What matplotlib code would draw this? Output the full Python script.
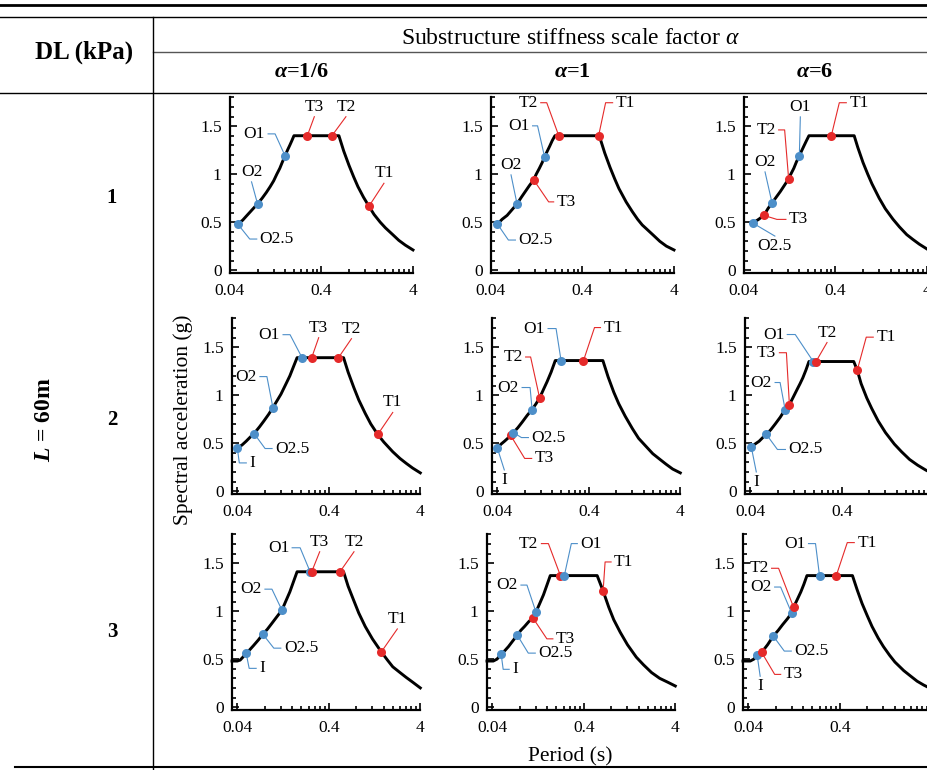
import numpy as np
import matplotlib
matplotlib.use('Agg')
import matplotlib.pyplot as plt
from matplotlib.lines import Line2D
from matplotlib.transforms import IdentityTransform
from matplotlib.ticker import NullFormatter

plt.rcParams['font.family'] = ['Liberation Serif', 'DejaVu Serif']
plt.rcParams['mathtext.fontset'] = 'custom'
plt.rcParams['mathtext.rm'] = 'Liberation Serif'
plt.rcParams['mathtext.it'] = 'Liberation Serif:italic'
plt.rcParams['mathtext.bf'] = 'Liberation Serif:bold'
plt.rcParams['mathtext.bfit'] = 'Liberation Serif:italic:bold'

W, H = 928, 770
BLUE = '#4d8fc9'
RED = '#e52a2a'

row_labels = ['1', '2', '3']
col_labels = ['1/6', '1', '6']
x_ticks = [0.04, 0.4, 4]
x_ticklabels = ['0.04', '0.4', '4']
y_ticks = [0, 0.5, 1, 1.5]
y_ticklabels = ['0', '0.5', '1', '1.5']

# ---- DL = 1 kPa ----
t11 = [0.0486, 0.055, 0.06, 0.07, 0.08, 0.09, 0.10, 0.11, 0.12, 0.13, 0.14, 0.15, 0.16, 0.17, 0.18, 0.19, 0.20,
       0.62, 0.7, 0.8, 0.9, 1.0, 1.15, 1.32, 1.5, 1.75, 2.0, 2.4, 2.8, 3.3, 4.0]
s11 = [0.48, 0.52, 0.56, 0.63, 0.69, 0.75, 0.81, 0.87, 0.93, 1.00, 1.06, 1.13, 1.19, 1.25, 1.30, 1.35, 1.40,
       1.40, 1.24, 1.09, 0.97, 0.87, 0.76, 0.665, 0.58, 0.50, 0.44, 0.37, 0.31, 0.26, 0.21]
n11 = ['O2.5', 'O2', 'O1', 'T3', 'T2', 'T1']
mt11 = [0.0486, 0.08, 0.16, 0.28, 0.52, 1.32]
ms11 = [0.48, 0.69, 1.19, 1.40, 1.40, 0.665]

t12 = [0.047, 0.053, 0.06, 0.068, 0.077, 0.086, 0.095, 0.105, 0.117, 0.125, 0.135, 0.145, 0.154, 0.165, 0.175,
       0.187, 0.20, 0.61, 0.7, 0.8, 0.9, 1.0, 1.2, 1.4, 1.6, 1.8, 2.0, 2.4, 2.8, 3.3, 4.0]
s12 = [0.48, 0.53, 0.57, 0.63, 0.69, 0.76, 0.82, 0.88, 0.94, 1.00, 1.06, 1.12, 1.18, 1.24, 1.29,
       1.35, 1.40, 1.40, 1.22, 1.07, 0.95, 0.85, 0.71, 0.61, 0.53, 0.47, 0.43, 0.36, 0.30, 0.25, 0.21]
n12 = ['O2.5', 'O2', 'O1', 'T3', 'T2', 'T1']
mt12 = [0.047, 0.077, 0.154, 0.117, 0.22, 0.60]
ms12 = [0.48, 0.69, 1.18, 0.94, 1.40, 1.40]

t13 = [0.05, 0.058, 0.066, 0.073, 0.081, 0.09, 0.10, 0.11, 0.123, 0.13, 0.14, 0.15, 0.161, 0.17, 0.18, 0.193, 0.205,
       0.64, 0.7, 0.8, 0.9, 1.0, 1.2, 1.4, 1.7, 2.0, 2.4, 2.8, 3.3, 4.0]
s13 = [0.49, 0.53, 0.57, 0.64, 0.70, 0.76, 0.82, 0.88, 0.95, 1.00, 1.06, 1.13, 1.19, 1.24, 1.29, 1.35, 1.40,
       1.40, 1.28, 1.12, 1.00, 0.90, 0.75, 0.64, 0.53, 0.45, 0.37, 0.32, 0.27, 0.22]
n13 = ['O2.5', 'T3', 'O2', 'T2', 'O1', 'T1']
mt13 = [0.05, 0.066, 0.081, 0.123, 0.161, 0.36]
ms13 = [0.49, 0.57, 0.70, 0.95, 1.19, 1.40]

# ---- DL = 2 kPa ----
t21 = [0.040, 0.045, 0.05, 0.055, 0.061, 0.07, 0.078, 0.088, 0.098, 0.11, 0.12, 0.135, 0.15, 0.165, 0.18,
       0.58, 0.65, 0.75, 0.85, 1.0, 1.15, 1.37, 1.6, 2.0, 2.4, 2.8, 3.3, 4.0]
s21 = [0.45, 0.48, 0.52, 0.56, 0.60, 0.67, 0.73, 0.80, 0.87, 0.95, 1.01, 1.11, 1.20, 1.30, 1.39,
       1.39, 1.24, 1.08, 0.95, 0.81, 0.70, 0.59, 0.51, 0.41, 0.34, 0.29, 0.24, 0.19]
n21 = ['I', 'O2.5', 'O2', 'O1', 'T3', 'T2', 'T1']
mt21 = [0.040, 0.061, 0.098, 0.204, 0.26, 0.51, 1.37]
ms21 = [0.45, 0.60, 0.87, 1.39, 1.39, 1.39, 0.59]

t22 = [0.040, 0.044, 0.048, 0.052, 0.056, 0.060, 0.067, 0.075, 0.085, 0.096, 0.106, 0.116, 0.128, 0.14, 0.155, 0.172,
       0.57, 0.65, 0.75, 0.85, 1.0, 1.2, 1.4, 1.6, 2.0, 2.4, 2.8, 3.3, 4.0]
s22 = [0.45, 0.49, 0.52, 0.55, 0.58, 0.61, 0.66, 0.72, 0.79, 0.85, 0.91, 0.97, 1.06, 1.14, 1.24, 1.36,
       1.36, 1.19, 1.03, 0.91, 0.78, 0.65, 0.55, 0.49, 0.39, 0.33, 0.28, 0.23, 0.19]
n22 = ['I', 'T3', 'O2.5', 'O2', 'T2', 'O1', 'T1']
mt22 = [0.040, 0.056, 0.060, 0.096, 0.116, 0.199, 0.35]
ms22 = [0.45, 0.58, 0.61, 0.85, 0.97, 1.36, 1.36]

t23 = [0.041, 0.045, 0.05, 0.055, 0.060, 0.067, 0.075, 0.085, 0.096, 0.107, 0.118, 0.13, 0.14, 0.15, 0.162, 0.175,
       0.54, 0.59, 0.65, 0.75, 0.85, 1.0, 1.2, 1.5, 1.8, 2.2, 2.7, 3.3, 4.0]
s23 = [0.46, 0.49, 0.52, 0.56, 0.59, 0.64, 0.70, 0.77, 0.85, 0.90, 0.98, 1.06, 1.12, 1.18, 1.26, 1.35,
       1.35, 1.26, 1.12, 0.97, 0.86, 0.73, 0.61, 0.49, 0.41, 0.33, 0.27, 0.22, 0.18]
n23 = ['I', 'O2.5', 'O2', 'T3', 'O1', 'T2', 'T1']
mt23 = [0.041, 0.060, 0.096, 0.107, 0.195, 0.209, 0.59]
ms23 = [0.46, 0.59, 0.85, 0.90, 1.35, 1.35, 1.26]

# ---- DL = 3 kPa ----
t31 = [0.035, 0.040, 0.043, 0.046, 0.050, 0.055, 0.06, 0.068, 0.076, 0.085, 0.095, 0.108, 0.123, 0.135, 0.15, 0.165, 0.18,
       0.58, 0.65, 0.75, 0.85, 1.0, 1.2, 1.5, 1.75, 2.0, 2.4, 2.8, 3.3, 4.0]
s31 = [0.48, 0.48, 0.49, 0.52, 0.56, 0.60, 0.64, 0.70, 0.76, 0.81, 0.87, 0.94, 1.01, 1.10, 1.20, 1.31, 1.41,
       1.41, 1.26, 1.11, 0.98, 0.84, 0.71, 0.575, 0.49, 0.42, 0.36, 0.31, 0.26, 0.20]
n31 = ['I', 'O2.5', 'O2', 'O1', 'T3', 'T2', 'T1']
mt31 = [0.050, 0.076, 0.123, 0.25, 0.26, 0.53, 1.5]
ms31 = [0.56, 0.76, 1.01, 1.41, 1.41, 1.41, 0.575]

t32 = [0.035, 0.041, 0.045, 0.050, 0.055, 0.06, 0.067, 0.075, 0.082, 0.09, 0.1, 0.111, 0.12, 0.132, 0.145, 0.158, 0.172,
       0.56, 0.65, 0.75, 0.85, 1.0, 1.2, 1.5, 1.8, 2.2, 2.7, 3.3, 4.0]
s32 = [0.48, 0.48, 0.50, 0.55, 0.59, 0.63, 0.69, 0.75, 0.80, 0.84, 0.89, 0.93, 0.99, 1.08, 1.17, 1.27, 1.37,
       1.37, 1.21, 1.04, 0.91, 0.78, 0.65, 0.52, 0.44, 0.36, 0.30, 0.26, 0.22]
n32 = ['I', 'O2.5', 'T3', 'O2', 'T2', 'O1', 'T1']
mt32 = [0.050, 0.075, 0.111, 0.12, 0.222, 0.245, 0.65]
ms32 = [0.55, 0.75, 0.93, 0.99, 1.37, 1.37, 1.21]

t33 = [0.035, 0.042, 0.046, 0.050, 0.056, 0.065, 0.075, 0.085, 0.095, 0.107, 0.119, 0.125, 0.137, 0.15, 0.162, 0.175,
       0.55, 0.62, 0.7, 0.8, 0.9, 1.05, 1.2, 1.4, 1.6, 2.0, 2.4, 2.8, 3.3, 4.0]
s33 = [0.48, 0.48, 0.50, 0.54, 0.57, 0.65, 0.74, 0.80, 0.86, 0.92, 0.98, 1.04, 1.12, 1.20, 1.28, 1.37,
       1.37, 1.22, 1.08, 0.95, 0.84, 0.72, 0.63, 0.54, 0.47, 0.38, 0.32, 0.27, 0.23, 0.19]
n33 = ['I', 'T3', 'O2.5', 'O2', 'T2', 'O1', 'T1']
mt33 = [0.050, 0.056, 0.075, 0.119, 0.125, 0.24, 0.366]
ms33 = [0.54, 0.57, 0.74, 0.98, 1.04, 1.37, 1.37]

# leader lines: elbow offset (px, y up), horizontal stub (px), text placement
lay11 = [(12, -15, 7, 's'), (-6, 22, 0, 't'), (-10, 22, -7, 's'), (7, 19, 0, 't'), (14, 19, 0, 't'), (15, 23, 0, 't')]
lay12 = [(11, -16, 7, 's'), (-6, 29, 0, 't'), (-7, 31, -5, 's'), (15, -22, 5, 's'), (-12, 33, -6, 's'), (7, 33, 7, 's')]
lay13 = [(22, -13, 0, 'b'), (13, -4, 9, 's'), (-7, 31, 0, 't'), (-4, 49, -6, 's'), (1, 39, 0, 't'), (8, 33, 7, 's')]
lay21 = [(2, -15, 7, 's'), (11, -15, 7, 's'), (-6, 31, -7, 's'), (-12, 23, -7, 's'), (7, 20, 0, 't'), (13, 19, 0, 't'), (15, 22, 0, 't')]
lay22 = [(7, -22, 0, 'b'), (14, -23, 7, 's'), (8, -5, 7, 's'), (-2, 22, -8, 's'), (-9, 41, -5, 's'), (-5, 32, -8, 's'), (11, 33, 6, 's')]
lay23 = [(5, -25, 0, 'b'), (11, -15, 8, 's'), (-5, 27, -5, 's'), (-3, 52, -7, 's'), (-18, 27, -8, 's'), (11, 19, 0, 't'), (9, 33, 7, 's')]
lay31 = [(3, -15, 7, 's'), (11, -14, 7, 's'), (-10, 21, -7, 's'), (-10, 24, -8, 's'), (8, 20, 0, 't'), (14, 20, 0, 't'), (16, 23, 0, 't')]
lay32 = [(2, -15, 6, 's'), (11, -18, 7, 's'), (14, -21, 6, 's'), (-9, 27, -6, 's'), (-12, 32, -7, 's'), (7, 32, 6, 's'), (2, 29, 6, 's')]
lay33 = [(3, -21, 0, 'b'), (13, -22, 6, 's'), (11, -15, 7, 's'), (-11, 26, -6, 's'), (-15, 39, -7, 's'), (-4, 32, -7, 's'), (11, 33, 7, 's')]

curves = [[(t11, s11), (t12, s12), (t13, s13)],
          [(t21, s21), (t22, s22), (t23, s23)],
          [(t31, s31), (t32, s32), (t33, s33)]]
points = [[(n11, mt11, ms11), (n12, mt12, ms12), (n13, mt13, ms13)],
          [(n21, mt21, ms21), (n22, mt22, ms22), (n23, mt23, ms23)],
          [(n31, mt31, ms31), (n32, mt32, ms32), (n33, mt33, ms33)]]
layouts = [[lay11, lay12, lay13], [lay21, lay22, lay23], [lay31, lay32, lay33]]

# panel placement in pixels
ax_left = [[230, 491, 744], [232, 492, 745], [232, 487, 743]]
ax_base = [273, 494, 710]
x_min = [0.04, 0.035, 0.035]
DEC = 91.5   # px per decade
UNIT = 96    # px per g
Y0, Y1 = -0.03, 1.8

minor_x = [0.04 * k for k in range(2, 10)] + [0.4 * k for k in range(2, 10)]
minor_y = np.arange(0, 1.81, 0.1)

fig = plt.figure(figsize=(W / 100, H / 100), dpi=100)


def fx(x):
    return x / W


def fy(y):
    return 1 - y / H


for r in range(3):
    for c in range(3):
        xmin = x_min[r]
        w = DEC * np.log10(4 / xmin)
        h = UNIT * (Y1 - Y0)
        ax = fig.add_axes([ax_left[r][c] / W, (H - ax_base[r]) / H, w / W, h / H])
        ax.set_xscale('log')
        ax.set_xlim(xmin, 4)
        ax.set_ylim(Y0, Y1)
        ax.patch.set_visible(False)
        for sp in ['top', 'right']:
            ax.spines[sp].set_visible(False)
        for sp in ['left', 'bottom']:
            ax.spines[sp].set_linewidth(1.6)
        ax.set_xticks(x_ticks, x_ticklabels)
        ax.set_xticks(minor_x, minor=True)
        ax.xaxis.set_minor_formatter(NullFormatter())
        ax.set_yticks(y_ticks, y_ticklabels)
        ax.set_yticks(minor_y, minor=True)
        ax.tick_params(which='both', direction='in', width=1.2, labelsize=12.5)
        ax.tick_params(axis='x', which='major', length=5, pad=7)
        ax.tick_params(axis='y', which='major', length=5, pad=6)
        ax.tick_params(which='minor', length=3)

        t, s = curves[r][c]
        ax.plot(t, s, color='black', lw=2.1, zorder=3, clip_on=False,
                solid_joinstyle='round')

        names, mt, ms = points[r][c]
        for name, pt, ps, (dx, dy, stub, where) in zip(names, mt, ms, layouts[r][c]):
            col = RED if name.startswith('T') else BLUE
            ax.plot([pt], [ps], 'o', ms=6.5, color=col, mec='none', zorder=5, clip_on=False)
            px, py = ax.transData.transform((pt, ps))
            ex, ey = px + dx, py + dy
            xs, ys = [px, ex], [py, ey]
            if where == 's':
                xs.append(ex + stub)
                ys.append(ey)
                tx, ty = ex + stub + (3 if stub > 0 else -3), ey
                ha, va = ('left' if stub > 0 else 'right'), 'center'
            elif where == 't':
                tx, ty, ha, va = ex, ey + 2, 'center', 'bottom'
            else:
                tx, ty, ha, va = ex, ey - 2, 'center', 'top'
            ax.add_line(Line2D(xs, ys, transform=IdentityTransform(), color=col, lw=0.8,
                               zorder=4, clip_on=False))
            ax.text(tx, ty, name, transform=IdentityTransform(), ha=ha, va=va,
                    fontsize=12.5, clip_on=False)


# table rules
def hline(y, x0, x1, lw, color='black'):
    fig.add_artist(Line2D([fx(x0), fx(x1)], [fy(y), fy(y)], transform=fig.transFigure,
                          color=color, lw=lw))


hline(4.7, 0, 928, 2.0)
hline(16.5, 0, 928, 1.0)
hline(52, 152.5, 928, 1.0, color='#555555')
hline(93, 0, 928, 1.0)
hline(767, 15, 928, 1.5)
fig.add_artist(Line2D([fx(152.5), fx(152.5)], [fy(16.5), fy(770)], transform=fig.transFigure,
                      color='black', lw=1.0))

# header texts
fig.text(fx(84), fy(52), 'DL (kPa)', ha='center', va='center', fontsize=18, fontweight='bold')
fig.text(fx(570), fy(38), r'Substructure stiffness scale factor $\mathit{\alpha}$',
         ha='center', va='center', fontsize=17)
for x, lab in zip([301, 572, 815], col_labels):
    fig.text(fx(x), fy(72), r'$\mathbfit{\alpha}$=' + lab, ha='center', va='center',
             fontsize=16, fontweight='bold')
for y, lab in zip([198, 420, 632], row_labels):
    fig.text(fx(112), fy(y), lab, ha='center', va='center', fontsize=15, fontweight='bold')
fig.text(fx(45), fy(420), r'$\mathbfit{L}$ = 60m', rotation=90, ha='center', va='center',
         fontsize=17, fontweight='bold')
fig.text(fx(183), fy(420), 'Spectral acceleration (g)', rotation=90, ha='center', va='center',
         fontsize=15.5)
fig.text(fx(570), fy(757), 'Period (s)', ha='center', va='center', fontsize=15.5)

fig.savefig('out.png', dpi=100)
